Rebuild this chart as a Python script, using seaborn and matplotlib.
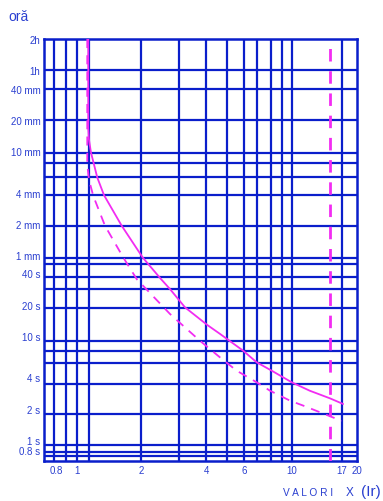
import matplotlib
matplotlib.use("Agg")
import matplotlib.pyplot as plt
import seaborn as sns
import pandas as pd

# Multiples of the rated current Ir (x) and tripping time in seconds (y)
curve_hot_x = [1.132, 1.132, 1.14, 1.165, 1.246, 1.339, 1.619, 2.026, 2.465, 2.714,
               3.185, 4.04, 4.63, 5.94, 6.86, 8.06, 9.98, 12.1, 15.0, 17.3]
curve_hot_t = [7200, 1000, 780, 584, 336, 227, 115, 57, 35.3, 28.3,
               18.9, 12.8, 10.5, 7.22, 5.59, 4.64, 3.59, 2.98, 2.52, 2.22]

curve_cold_x = [1.12, 1.12, 1.14, 1.194, 1.354, 1.646, 1.901, 2.714, 3.74, 4.63,
                5.54, 6.86, 7.91, 9.8, 11.3, 17.0]
curve_cold_t = [7200, 450, 320, 223, 115, 57, 35.3, 16.3, 9.0, 6.24,
                4.64, 3.59, 2.98, 2.39, 2.14, 1.53]

instant_x = 15.0                      # instantaneous trip threshold
time_range = [0.624, 7200]

x_ticks = [0.8, 1, 2, 4, 6, 10, 17, 20]
x_tick_labels = ["0.8", "1", "2", "4", "6", "10", "17", "20"]
x_grid = [0.787, 0.889, 1.0, 1.137, 2.0, 3.0, 4.0, 5.0, 6.0, 6.86, 8.0, 9.0, 10.0, 17.0]

y_ticks = [0.8, 1, 2, 4, 10, 20, 40, 60, 120, 240, 600, 1200, 2400, 3600, 7200]
y_tick_labels = ["0.8 s", "1 s", "2 s", "4 s", "10 s", "20 s", "40 s", "1 mm",
                 "2 mm", "4 mm", "10 mm", "20 mm", "40 mm", "1h", "2h"]
y_grid = [0.70, 0.77, 0.90, 1.79, 3.48, 5.5, 7.2, 9.0, 18.7, 28.3, 37, 49, 56,
          115, 229, 338, 464, 575, 1200, 2400, 3600]

GRID = "#0a1ecb"
TEXT = "#2a3fd0"
MAGENTA = "#f22cf2"

sns.set_theme(style="white")
plt.rcParams["font.family"] = ["Liberation Sans", "DejaVu Sans"]

fig = plt.figure(figsize=(3.83, 5.02), dpi=100)
ax = fig.add_axes([44 / 383, 1 - 462.3 / 502, (356.7 - 44) / 383, (462.3 - 40) / 502])
ax.set_xscale("log")
ax.set_yscale("log")
ax.set_xlim(0.705, 20)
ax.set_ylim(*time_range)

for v in x_grid:
    ax.axvline(v, color=GRID, lw=1.6, zorder=1)
for v in y_grid:
    ax.axhline(v, color=GRID, lw=1.6, zorder=1)

hot = pd.DataFrame({"x": curve_hot_x, "t": curve_hot_t})
cold = pd.DataFrame({"x": curve_cold_x, "t": curve_cold_t})
sns.lineplot(data=hot, x="x", y="t", ax=ax, color=MAGENTA, lw=1.3,
             estimator=None, sort=False, zorder=3)
sns.lineplot(data=cold, x="x", y="t", ax=ax, color=MAGENTA, lw=1.3,
             estimator=None, sort=False, zorder=3, linestyle=(0, (5, 4)))
ax.axvline(instant_x, color=MAGENTA, lw=2.0, linestyle=(0, (4.5, 3.5)), zorder=3)

ax.set_xticks(x_ticks)
ax.set_xticklabels(x_tick_labels)
ax.set_yticks(y_ticks)
ax.set_yticklabels(y_tick_labels)
ax.minorticks_off()
ax.tick_params(axis="both", length=0, labelsize=7, labelcolor=TEXT, pad=2.5)
ax.set_xlabel("")
ax.set_ylabel("")
for s in ax.spines.values():
    s.set_color(GRID)
    s.set_linewidth(1.8)
    s.set_visible(True)

fig.text(8 / 383, 1 - 17 / 502, "oră", color=TEXT, fontsize=10, va="center", ha="left")
fig.text(283 / 383, 1 - 493 / 502, "V A L O R I", color=TEXT, fontsize=7.3,
         va="center", ha="left")
fig.text(346 / 383, 1 - 493 / 502, "X", color=TEXT, fontsize=8.5, va="center", ha="left")
fig.text(361 / 383, 1 - 492 / 502, "(Ir)", color=TEXT, fontsize=11, va="center", ha="left")

fig.savefig("out.png", dpi=100)
